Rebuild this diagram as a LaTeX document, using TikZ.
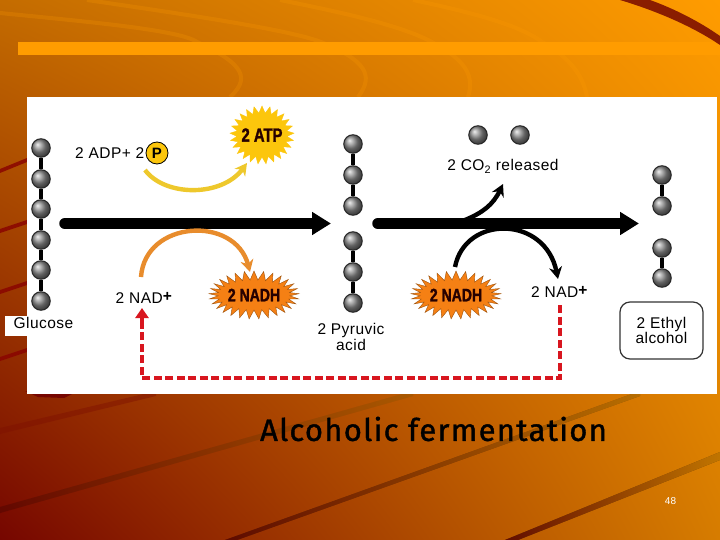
\documentclass[tikz,border=0pt]{standalone}
\usepackage{fontspec}
\setmainfont[LetterSpace=3]{Liberation Sans}
\newfontfamily\titlefont[LetterSpace=4.2,FakeBold=1.2]{Fira Sans}
\newfontfamily\burstfont[FakeStretch=.78,FakeBold=1.5]{Liberation Sans Bold}
\usetikzlibrary{shapes.symbols,arrows.meta,positioning,shadings}
\definecolor{bgdark}{HTML}{760600}
\definecolor{bgtl}{HTML}{C46C00}
\definecolor{bgtr}{HTML}{FF9C00}
\definecolor{bgbr}{HTML}{D67C00}
\definecolor{atpyellow}{HTML}{FCC60C}
\definecolor{nadhorange}{HTML}{F58014}
\definecolor{yellowarc}{HTML}{EEC82C}
\definecolor{orangearc}{HTML}{E88C2C}
\definecolor{loopred}{HTML}{D8161F}
\tikzset{
  x=1pt,y=-1pt,
  atom/.style={circle,draw=black!85,line width=1pt,minimum size=18.5pt,inner sep=0pt,shading=ball,ball color=black!45},
  bond/.style={line width=3.4pt,black},
  mainflow/.style={line width=11.5pt,line cap=round,black,-{Triangle[length=19pt,width=22pt]}},
  curveflow/.style={line width=4.4pt,-{Stealth[length=12pt,width=13pt]}},
  burst/.style={starburst,random starburst=0,draw=black!35!nadhorange,line width=.4pt,inner sep=0pt},
  burstlabel/.style={font=\burstfont\fontsize{18}{18}\selectfont,text=black!85!red},
  lbl/.style={font=\fontsize{15.5}{15.5}\selectfont,inner sep=0pt,align=center,black},
  arcline/.style={line width=4pt,bgtr,opacity=.22},
  redloop/.style={line width=4.4pt,loopred,dash pattern=on 8pt off 3.5pt},
}
\begin{document}
\begin{tikzpicture}
\useasboundingbox (0,0) rectangle (720,540);
% background
\shade[lower left=bgdark,upper left=bgtl,upper right=bgtr,lower right=bgbr] (0,540) rectangle (720,0);
\draw[arcline] (0,13) .. controls (90,22) and (180,30) .. (197,42) .. controls (235,60) and (255,75) .. (230,97);
\draw[arcline] (87,0) .. controls (190,15) and (290,30) .. (321,42) .. controls (365,60) and (375,75) .. (358,97);
\draw[arcline] (280,0) .. controls (340,12) and (400,25) .. (432,42) .. controls (465,60) and (475,75) .. (468,97);
\draw[arcline] (413,0) .. controls (470,12) and (520,25) .. (542,42) .. controls (570,58) and (583,75) .. (587,97);
\fill[bgtr] (18,42) rectangle (720,55);
\fill[bgdark!85!bgtr] (620,0) .. controls (660,12) and (695,28) .. (720,45) -- (720,36) .. controls (700,22) and (675,9) .. (650,0) -- cycle;
% left edge stripes
\foreach \ya/\yb in {169/160,229/222,290/283,357/350}
  \fill[bgdark!85!red,opacity=.85] (0,\ya) -- (27,\yb-2) -- (27,\yb+2) -- (0,\ya+4) -- cycle;
% lower stripes
\fill[bgdark!90!bgtl,opacity=.45] (0,428) -- (156,391) -- (156,396) -- (0,434) -- cycle;
\fill[left color=bgdark,right color=bgtr,opacity=.22] (0,507) -- (413,391) -- (413,396) -- (0,513) -- cycle;
\fill[left color=bgdark,middle color=bgdark!40!bgbr,right color=bgtr,opacity=.55] (225,540) -- (640,391) -- (640,396) -- (237,540) -- cycle;
\fill[left color=bgdark,middle color=bgbr,right color=bgtr,opacity=.65] (505,540) -- (720,452) -- (720,460) -- (518,540) -- cycle;
\fill[bgdark] (25,391) -- (72,394) -- (64,398) -- (38,397) -- cycle;
% white panel
\fill[white] (27,97) rectangle (717,394);
\fill[white] (5,316) rectangle (27,336);
% atoms
\node[atom] (g1) at (41,148) {};
\node[atom] (g2) at (41,179) {};
\node[atom] (g3) at (41,209) {};
\node[atom] (g4) at (41,240) {};
\node[atom] (g5) at (41,270) {};
\node[atom] (g6) at (41,301) {};
\node[atom] (p1) at (353,144) {};
\node[atom] (p2) at (353,175) {};
\node[atom] (p3) at (353,206) {};
\node[atom] (p4) at (353,241) {};
\node[atom] (p5) at (353,272) {};
\node[atom] (p6) at (353,303) {};
\node[atom] (c1) at (478,135) {};
\node[atom] (c2) at (520,135) {};
\node[atom] (e1) at (662,175) {};
\node[atom] (e2) at (662,206) {};
\node[atom] (e3) at (662,248) {};
\node[atom] (e4) at (662,278) {};
\foreach \a/\b in {g1/g2,g2/g3,g3/g4,g4/g5,g5/g6,p1/p2,p2/p3,p4/p5,p5/p6,e1/e2,e3/e4}
  \draw[bond] (\a) -- (\b);
% bursts
\node[burst,fill=atpyellow,draw=atpyellow,minimum width=64pt,minimum height=58pt,starburst points=25,starburst point height=7pt] (atp) at (262,135) {};
\node[burstlabel,font=\burstfont\fontsize{19}{19}\selectfont] at (atp) {2 ATP};
\node[burst,fill=nadhorange,minimum width=90pt,minimum height=48pt,starburst points=29,starburst point height=9pt] (nadh1) at (254,295) {};
\node[burstlabel] at (nadh1) {2 NADH};
\node[burst,fill=nadhorange,minimum width=90pt,minimum height=48pt,starburst points=29,starburst point height=9pt] (nadh2) at (456,295) {};
\node[burstlabel] at (nadh2) {2 NADH};
% main arrows
\coordinate (m1a) at (65,223.5);
\coordinate (m1b) at (331,223.5);
\coordinate (m2a) at (378,223.5);
\coordinate (m2b) at (639,223.5);
\draw[mainflow] (m1a) -- (m1b);
\draw[mainflow] (m2a) -- (m2b);
% labels
\node[lbl,anchor=west] (adp) at (75,153) {2 ADP+ 2};
\node[circle,draw=black,line width=.8pt,fill=atpyellow,minimum size=22pt,inner sep=0pt,font=\bfseries\fontsize{15}{15}\selectfont] (phos) at (157,153) {P};
\node[lbl] (co2) at (503,166.5) {2 CO\textsubscript{2} released};
\node[lbl] (nad1) at (144,297.5) {2 NAD\raisebox{2pt}{\textbf{+}}};
\node[lbl] (nad2) at (559.5,291.5) {2 NAD\raisebox{2pt}{\textbf{+}}};
\node[lbl] (glu) at (43.5,323) {Glucose};
\node[lbl] (pyr) at (351,337) {2 Pyruvic\\[0pt]acid};
\node[draw=black!80,line width=1.2pt,rounded corners=10pt,minimum width=83pt,minimum height=57pt,fill=white] (ethbox) at (661.5,330.5) {};
\node[lbl] (eth) at (ethbox) {2 Ethyl\\[0pt]alcohol};
\node[font=\titlefont\fontsize{31}{31}\selectfont,inner sep=0pt,black] (title) at (433.5,429) {Alcoholic fermentation};
\node[font=\fontsize{10}{10}\selectfont,text=white,inner sep=0pt] (num) at (670.5,501) {48};
% curved arrows
\coordinate (ya) at (145,170);
\coordinate (yb) at (247,163);
\draw[curveflow,yellowarc] (ya) .. controls (165,197) and (222,197) .. (yb);
\coordinate (oa) at (141,277);
\coordinate (ob) at (250,272);
\draw[curveflow,orangearc] (oa) .. controls (145,220) and (235,215) .. (ob);
\coordinate (ca) at (465,220);
\coordinate (cb) at (503,184);
\draw[curveflow,black] (ca) .. controls (482,213) and (493,205) .. (cb);
\coordinate (na) at (455,267);
\coordinate (nb) at (558,279);
\draw[curveflow,black] (na) .. controls (465,215) and (545,215) .. (nb);
% red return loop
\coordinate (ra) at (560,305);
\coordinate (rb) at (142,308);
\coordinate (rc) at (560,378);
\coordinate (rd) at (142,378);
\draw[redloop] (ra) -- (rc) -- (rd) -- (142,322);
\draw[loopred,line width=4.4pt,-{Triangle[length=10pt,width=13pt]}] (142,322) -- (rb);
\end{tikzpicture}
\end{document}
